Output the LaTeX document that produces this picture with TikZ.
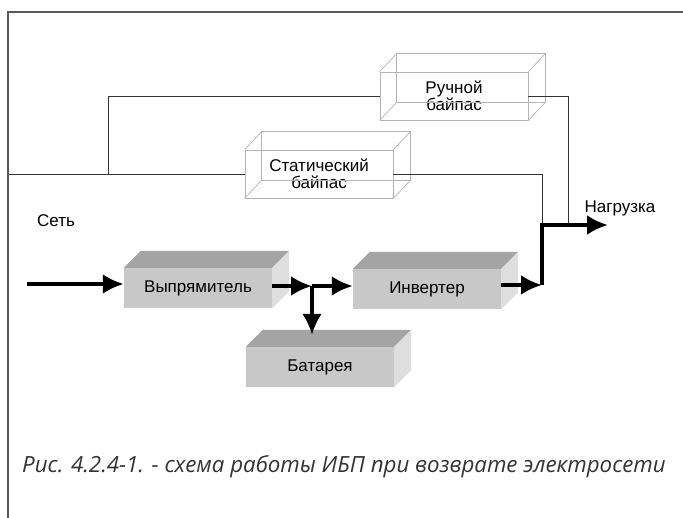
\documentclass[tikz,border=0pt]{standalone}
\usepackage{fontspec}
\setmainfont{Liberation Sans}
\newfontfamily\capfont{Open Sans}
\usepackage{tikz}
\usetikzlibrary{calc}
\usetikzlibrary{arrows.meta}
\usetikzlibrary{positioning}
\tikzset{>=latex}
\definecolor{frontgray}{HTML}{C8C8C8}
\definecolor{topgray}{HTML}{A4A4A4}
\definecolor{sidegray}{HTML}{DEDEDE}
\definecolor{wiregray}{HTML}{B4B4B4}
\tikzstyle{block} = [rectangle, fill=frontgray, minimum width=148pt, minimum height=40pt, inner sep=0, font=\fontsize{17}{19}\selectfont]
\tikzstyle{ghost} = [rectangle, draw=wiregray, line width=.7pt, minimum width=148pt, minimum height=48pt, inner sep=0, align=center, font=\fontsize{17}{17}\selectfont]
\tikzstyle{power} = [line width=4pt, -{Latex[length=21pt,width=20pt]}]
\tikzstyle{wire} = [-, line width=.9pt, draw=black!80]
\tikzstyle{lbl} = [draw=none, inner sep=0, font=\fontsize{17}{19}\selectfont]

% top and side faces of a grey block
\newcommand{\solidface}[1]{%
  \fill [topgray] (#1.north west) -- ++(17,-17) -- ($(#1.north east)+(17,-17)$) -- (#1.north east) -- cycle;
  \fill [sidegray] (#1.north east) -- ++(17,-17) -- ($(#1.south east)+(17,-17)$) -- (#1.south east) -- cycle;}
% back face and edges of a see-through block
\newcommand{\ghostframe}[1]{%
  \draw [wiregray, line width=.7pt] ($(#1.north west)+(17,-18)$) rectangle ($(#1.south east)+(17,-18)$);
  \foreach \c in {north west, north east, south west, south east}
    \draw [wiregray, line width=.7pt] (#1.\c) -- ++(17,-18);}

\begin{document}
\begin{tikzpicture}[x=1pt, y=-1pt]
\useasboundingbox (0,0) rectangle (683,518);
\draw [draw=black!65, line width=1.6pt] (683,12) -- (8,12) -- (8,518);

\node [block] (rect) at (198,288) {Выпрямитель};
\node [block] (inv) at (427,289) {Инвертер};
\node [block] (bat) at (320,367) {Батарея};
\solidface{rect}
\solidface{inv}
\solidface{bat}

\node [ghost] (stat) at (319,174) {Статический\\байпас};
\node [ghost] (man) at (454,96) {Ручной\\байпас};
\ghostframe{stat}
\ghostframe{man}

\node [lbl] (net) at (56,221) {Сеть};
\node [lbl] (load) at (620,208) {Нагрузка};

\coordinate (mains) at (9,174);
\coordinate (tap) at (108,174);
\coordinate (src) at (27,284);
\coordinate (jn) at (312,286);
\coordinate (jn2) at (542,285);
\coordinate (out) at (608,225);
\coordinate (mj) at (568,225);

\draw [wire] (mains) -- (stat.west);
\draw [wire] (stat.east) -| (jn2 |- out);
\draw [wire] (tap) |- (man.west);
\draw [wire] (man.east) -| (mj);

\draw [power] (src) -- (src -| rect.west);
\draw [power] (rect.east |- jn) -- (jn);
\draw [power] (jn) -- (jn -| inv.west);
\draw [power] (jn) -- ($(jn |- bat.north)+(0,-12)$);
\draw [power] (inv.east |- jn2) -- (jn2);
\draw [power] (jn2) |- (out);

\node [draw=none, text=black!80] (cap) at (344,467) {\capfont\itshape\fontsize{22.3}{25}\selectfont Рис. 4.2.4-1. - схема работы ИБП при возврате электросети};
\end{tikzpicture}
\end{document}
